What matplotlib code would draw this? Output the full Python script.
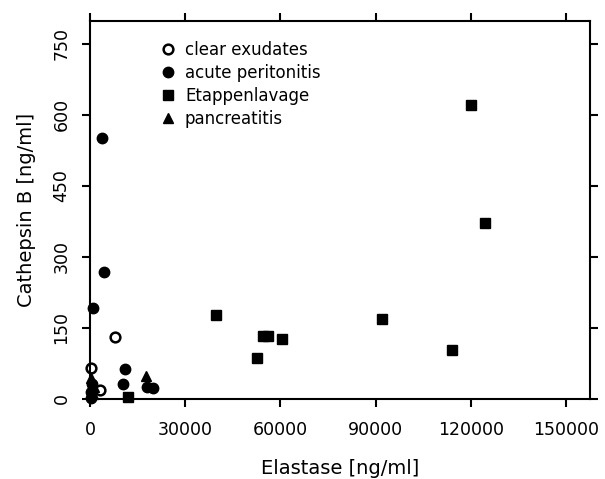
import matplotlib
matplotlib.use('Agg')
import matplotlib.pyplot as plt

# values
clear_x = [7900, 300, 3100]
clear_y = [130, 65, 19]

acute_x = [3800, 4500, 800, 11000, 10300, 18100, 19900, 700, 300, 200]
acute_y = [551, 269, 192, 63, 31, 26, 24, 32, 15, 3]

etappen_x = [120000, 124500, 114000, 92000, 54500, 56000, 60600, 52500, 39700, 12000]
etappen_y = [621, 372, 104, 169, 132, 132, 127, 86, 177, 4]

pancreas_x = [17600, 400, 1200, 900]
pancreas_y = [49, 45, 25, 10]

xticks = [0, 30000, 60000, 90000, 120000, 150000]
yticks = [0, 150, 300, 450, 600, 750]


def main():
    plt.rcParams['font.family'] = 'DejaVu Sans'
    fig = plt.figure(figsize=(6.05, 4.79), dpi=100)
    ax = fig.add_axes([90/605, 1-399/479, 500/605, 378/479])

    ax.plot(clear_x, clear_y, 'o', mfc='white', mec='black', mew=1.8, ms=7,
            label='clear exudates', clip_on=False)
    ax.plot(acute_x, acute_y, 'o', color='black', ms=7.5,
            label='acute peritonitis', clip_on=False)
    ax.plot(etappen_x, etappen_y, 's', color='black', ms=7,
            label='Etappenlavage', clip_on=False)
    ax.plot(pancreas_x, pancreas_y, '^', color='black', ms=7,
            label='pancreatitis', clip_on=False)

    ax.set_xlim(0, 157500)
    ax.set_ylim(0, 798)
    ax.set_xticks(xticks)
    ax.set_yticks(yticks)
    ax.set_xticklabels([str(v) for v in xticks])
    ax.set_yticklabels([str(v) for v in yticks], rotation=90, va='center')

    for s in ax.spines.values():
        s.set_linewidth(1.5)
    ax.tick_params(direction='out', length=6, width=1.5, labelsize=12.5,
                   top=True, right=True)
    ax.tick_params(axis='x', pad=10)
    ax.tick_params(axis='y', pad=8)

    ax.set_xlabel('Elastase [ng/ml]', fontsize=14, labelpad=14)
    ax.set_ylabel('Cathepsin B [ng/ml]', fontsize=14, labelpad=12)

    ax.legend(loc='upper left', bbox_to_anchor=(0.13, 0.965), frameon=False,
              fontsize=12, handlelength=0.8, handletextpad=0.6,
              labelspacing=0.3, borderaxespad=0)

    fig.savefig('out.png', dpi=100)


if __name__ == '__main__':
    main()
